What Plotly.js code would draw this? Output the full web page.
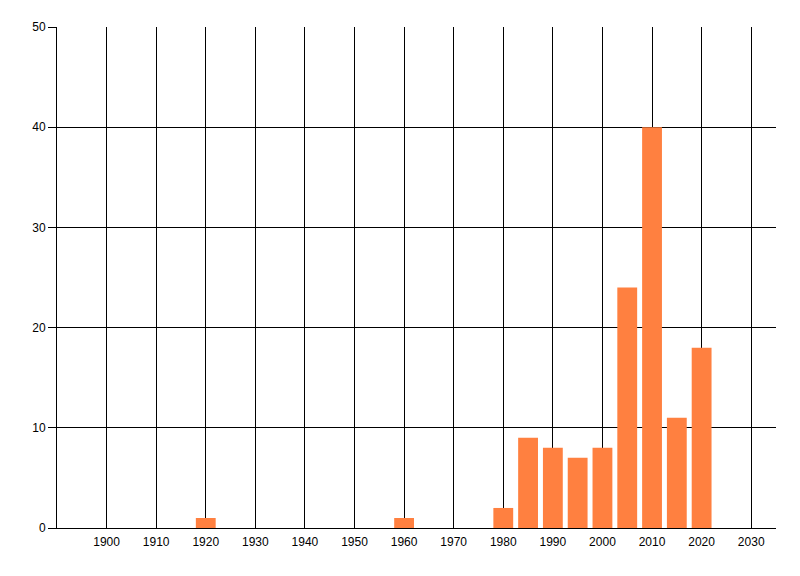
<!DOCTYPE html>
<html><head><meta charset="utf-8">
<script src="https://cdn.plot.ly/plotly-3.0.1.min.js"></script>
<style>html,body{margin:0;padding:0;background:#fff}#c{width:800px;height:576px}</style>
</head><body><div id="c"></div>
<script>
var years = [1920, 1960, 1980, 1985, 1990, 1995, 2000, 2005, 2010, 2015, 2020];
var counts = [1, 1, 2, 9, 8, 7, 8, 24, 40, 11, 18];
var xTicks = [1900, 1910, 1920, 1930, 1940, 1950, 1960, 1970, 1980, 1990, 2000, 2010, 2020, 2030];
var xTickLabels = xTicks.map(String);
var yTicks = [0, 10, 20, 30, 40, 50];

Plotly.newPlot('c', [{
  type: 'bar', x: years, y: counts, width: 4,
  marker: {color: 'rgb(255,128,64)', line: {width: 0}},
  hoverinfo: 'x+y'
}], {
  width: 800, height: 576,
  margin: {l: 57, r: 24, t: 27, b: 48, pad: 0},
  paper_bgcolor: '#fff', plot_bgcolor: '#fff',
  showlegend: false,
  font: {family: 'Liberation Sans, Arial, sans-serif', size: 12, color: '#000'},
  xaxis: {
    range: [1890, 2035], tickvals: xTicks, ticktext: xTickLabels,
    showgrid: true, gridcolor: '#000', gridwidth: 1,
    zeroline: false, showline: true, linecolor: '#000', linewidth: 1,
    ticks: '', ticklabelstandoff: 3, fixedrange: true
  },
  yaxis: {
    range: [0, 50], tickvals: yTicks,
    showgrid: true, gridcolor: '#000', gridwidth: 1,
    zeroline: false, showline: true, linecolor: '#000', linewidth: 1,
    ticks: 'outside', ticklen: 8, tickcolor: '#000', tickwidth: 1,
    ticklabelstandoff: 0, fixedrange: true
  }
}, {displayModeBar: false, staticPlot: true});
</script></body></html>
